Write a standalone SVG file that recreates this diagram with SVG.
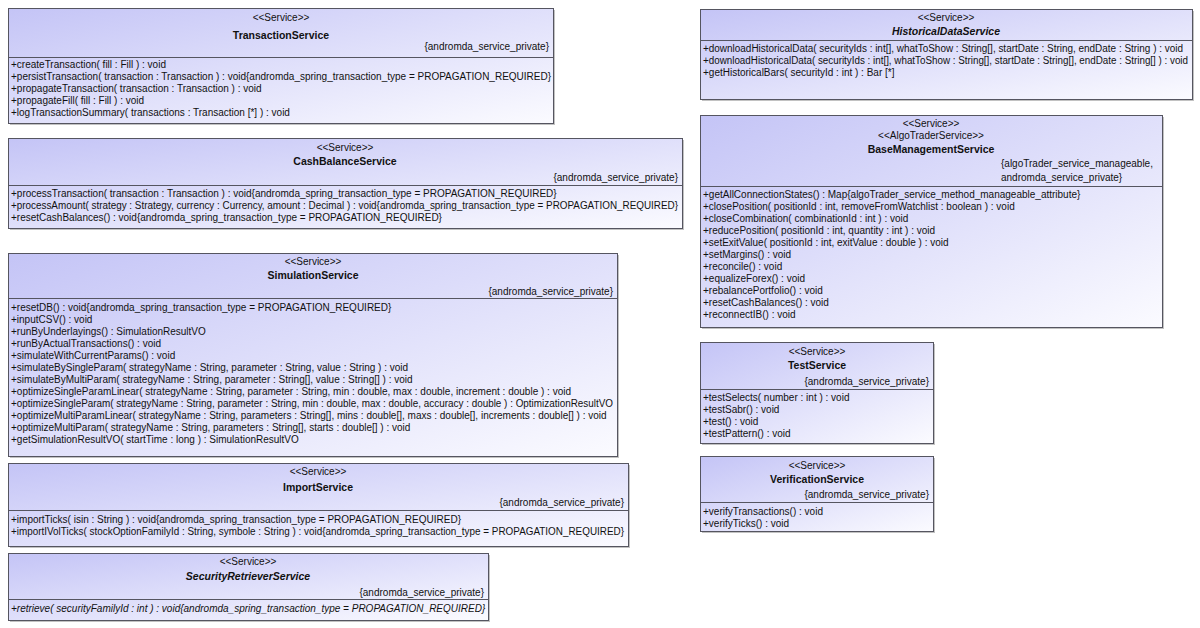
<svg xmlns="http://www.w3.org/2000/svg" width="1200" height="628" viewBox="0 0 1200 628">
  <defs>
    <linearGradient id="boxFill" x1="0" y1="0" x2="1" y2="1">
      <stop offset="0" stop-color="#c4c4f6"/>
      <stop offset="1" stop-color="#fbfbff"/>
    </linearGradient>
    <style>
      .box { fill: url(#boxFill); stroke: #555560; stroke-width: 1; }
      .shadow { fill: #a8a8a8; opacity: 0.7; }
      .sep { stroke: #555560; stroke-width: 1; }
      text { font-family: "Liberation Sans", Arial, sans-serif; font-size: 10px; fill: #111; }
      .st { text-anchor: middle; }
      .nm { text-anchor: middle; font-weight: bold; font-size: 10.5px; }
      .it { font-style: italic; }
      .tag { text-anchor: end; }
    </style>
  </defs>
  <rect width="1200" height="628" fill="#ffffff"/>

  <!-- TransactionService -->
  <g id="TransactionService">
    <rect class="shadow" x="10" y="10" width="545" height="115"/>
    <rect class="box" x="8.5" y="8.5" width="545" height="115"/>
    <line class="sep" x1="8.5" y1="57.5" x2="553.5" y2="57.5"/>
    <text class="st" x="281" y="21">&lt;&lt;Service&gt;&gt;</text>
    <text class="nm" x="281" y="39">TransactionService</text>
    <text class="tag" x="549" y="50">{andromda_service_private}</text>
    <text x="11" y="68">+createTransaction( fill : Fill ) : void</text>
    <text x="11" y="80">+persistTransaction( transaction : Transaction ) : void{andromda_spring_transaction_type = PROPAGATION_REQUIRED}</text>
    <text x="11" y="92">+propagateTransaction( transaction : Transaction ) : void</text>
    <text x="11" y="104">+propagateFill( fill : Fill ) : void</text>
    <text x="11" y="116">+logTransactionSummary( transactions : Transaction [*] ) : void</text>
  </g>

  <!-- CashBalanceService -->
  <g id="CashBalanceService">
    <rect class="shadow" x="10" y="140" width="674" height="90"/>
    <rect class="box" x="8.5" y="138.5" width="674" height="90"/>
    <line class="sep" x1="8.5" y1="185.5" x2="682.5" y2="185.5"/>
    <text class="st" x="345" y="151">&lt;&lt;Service&gt;&gt;</text>
    <text class="nm" x="345" y="165">CashBalanceService</text>
    <text class="tag" x="678" y="181">{andromda_service_private}</text>
    <text x="11" y="197">+processTransaction( transaction : Transaction ) : void{andromda_spring_transaction_type = PROPAGATION_REQUIRED}</text>
    <text x="11" y="209" textLength="667" lengthAdjust="spacingAndGlyphs">+processAmount( strategy : Strategy, currency : Currency, amount : Decimal ) : void{andromda_spring_transaction_type = PROPAGATION_REQUIRED}</text>
    <text x="11" y="221">+resetCashBalances() : void{andromda_spring_transaction_type = PROPAGATION_REQUIRED}</text>
  </g>

  <!-- SimulationService -->
  <g id="SimulationService">
    <rect class="shadow" x="10" y="255" width="609" height="203"/>
    <rect class="box" x="8.5" y="253.5" width="609" height="203"/>
    <line class="sep" x1="8.5" y1="298.5" x2="617.5" y2="298.5"/>
    <text class="st" x="313" y="265">&lt;&lt;Service&gt;&gt;</text>
    <text class="nm" x="313" y="279">SimulationService</text>
    <text class="tag" x="613" y="295">{andromda_service_private}</text>
    <text x="11" y="311">+resetDB() : void{andromda_spring_transaction_type = PROPAGATION_REQUIRED}</text>
    <text x="11" y="323">+inputCSV() : void</text>
    <text x="11" y="335">+runByUnderlayings() : SimulationResultVO</text>
    <text x="11" y="347">+runByActualTransactions() : void</text>
    <text x="11" y="359">+simulateWithCurrentParams() : void</text>
    <text x="11" y="371">+simulateBySingleParam( strategyName : String, parameter : String, value : String ) : void</text>
    <text x="11" y="383">+simulateByMultiParam( strategyName : String, parameter : String[], value : String[] ) : void</text>
    <text x="11" y="395">+optimizeSingleParamLinear( strategyName : String, parameter : String, min : double, max : double, increment : double ) : void</text>
    <text x="11" y="407" textLength="602" lengthAdjust="spacingAndGlyphs">+optimizeSingleParam( strategyName : String, parameter : String, min : double, max : double, accuracy : double ) : OptimizationResultVO</text>
    <text x="11" y="419">+optimizeMultiParamLinear( strategyName : String, parameters : String[], mins : double[], maxs : double[], increments : double[] ) : void</text>
    <text x="11" y="431">+optimizeMultiParam( strategyName : String, parameters : String[], starts : double[] ) : void</text>
    <text x="11" y="443">+getSimulationResultVO( startTime : long ) : SimulationResultVO</text>
  </g>

  <!-- ImportService -->
  <g id="ImportService">
    <rect class="shadow" x="10" y="465" width="620" height="83"/>
    <rect class="box" x="8.5" y="463.5" width="620" height="83"/>
    <line class="sep" x1="8.5" y1="510.5" x2="628.5" y2="510.5"/>
    <text class="st" x="318" y="475">&lt;&lt;Service&gt;&gt;</text>
    <text class="nm" x="318" y="491">ImportService</text>
    <text class="tag" x="624" y="506">{andromda_service_private}</text>
    <text x="11" y="523">+importTicks( isin : String ) : void{andromda_spring_transaction_type = PROPAGATION_REQUIRED}</text>
    <text x="11" y="535" textLength="613" lengthAdjust="spacingAndGlyphs">+importIVolTicks( stockOptionFamilyId : String, symbole : String ) : void{andromda_spring_transaction_type = PROPAGATION_REQUIRED}</text>
  </g>

  <!-- SecurityRetrieverService -->
  <g id="SecurityRetrieverService">
    <rect class="shadow" x="10" y="555" width="480" height="67"/>
    <rect class="box" x="8.5" y="553.5" width="480" height="67"/>
    <line class="sep" x1="8.5" y1="599.5" x2="488.5" y2="599.5"/>
    <text class="st" x="248" y="565">&lt;&lt;Service&gt;&gt;</text>
    <text class="nm it" x="248" y="580">SecurityRetrieverService</text>
    <text class="tag" x="484" y="596">{andromda_service_private}</text>
    <text class="it" x="11" y="612">+retrieve( securityFamilyId : int ) : void{andromda_spring_transaction_type = PROPAGATION_REQUIRED}</text>
  </g>

  <!-- HistoricalDataService -->
  <g id="HistoricalDataService">
    <rect class="shadow" x="702" y="11" width="492" height="90"/>
    <rect class="box" x="700.5" y="9.5" width="492" height="90"/>
    <line class="sep" x1="700.5" y1="40.5" x2="1192.5" y2="40.5"/>
    <text class="st" x="946" y="21">&lt;&lt;Service&gt;&gt;</text>
    <text class="nm it" x="946" y="35">HistoricalDataService</text>
    <text x="703" y="52" textLength="480" lengthAdjust="spacingAndGlyphs">+downloadHistoricalData( securityIds : int[], whatToShow : String[], startDate : String, endDate : String ) : void</text>
    <text x="703" y="64" textLength="485" lengthAdjust="spacingAndGlyphs">+downloadHistoricalData( securityIds : int[], whatToShow : String[], startDate : String[], endDate : String[] ) : void</text>
    <text x="703" y="76">+getHistoricalBars( securityId : int ) : Bar [*]</text>
  </g>

  <!-- BaseManagementService -->
  <g id="BaseManagementService">
    <rect class="shadow" x="702" y="117" width="462" height="212"/>
    <rect class="box" x="700.5" y="115.5" width="462" height="212"/>
    <line class="sep" x1="700.5" y1="186.5" x2="1162.5" y2="186.5"/>
    <text class="st" x="931" y="127">&lt;&lt;Service&gt;&gt;</text>
    <text class="st" x="931" y="139">&lt;&lt;AlgoTraderService&gt;&gt;</text>
    <text class="nm" x="931" y="153">BaseManagementService</text>
    <text x="1001" y="167">{algoTrader_service_manageable,</text>
    <text x="1001" y="181">andromda_service_private}</text>
    <text x="703" y="198">+getAllConnectionStates() : Map{algoTrader_service_method_manageable_attribute}</text>
    <text x="703" y="210">+closePosition( positionId : int, removeFromWatchlist : boolean ) : void</text>
    <text x="703" y="222">+closeCombination( combinationId : int ) : void</text>
    <text x="703" y="234">+reducePosition( positionId : int, quantity : int ) : void</text>
    <text x="703" y="246">+setExitValue( positionId : int, exitValue : double ) : void</text>
    <text x="703" y="258">+setMargins() : void</text>
    <text x="703" y="270">+reconcile() : void</text>
    <text x="703" y="282">+equalizeForex() : void</text>
    <text x="703" y="294">+rebalancePortfolio() : void</text>
    <text x="703" y="306">+resetCashBalances() : void</text>
    <text x="703" y="318">+reconnectIB() : void</text>
  </g>

  <!-- TestService -->
  <g id="TestService">
    <rect class="shadow" x="702" y="344" width="233" height="101"/>
    <rect class="box" x="700.5" y="342.5" width="233" height="101"/>
    <line class="sep" x1="700.5" y1="389.5" x2="933.5" y2="389.5"/>
    <text class="st" x="817" y="355">&lt;&lt;Service&gt;&gt;</text>
    <text class="nm" x="817" y="369">TestService</text>
    <text class="tag" x="929" y="385">{andromda_service_private}</text>
    <text x="703" y="401">+testSelects( number : int ) : void</text>
    <text x="703" y="413">+testSabr() : void</text>
    <text x="703" y="425">+test() : void</text>
    <text x="703" y="437">+testPattern() : void</text>
  </g>

  <!-- VerificationService -->
  <g id="VerificationService">
    <rect class="shadow" x="702" y="458" width="233" height="75"/>
    <rect class="box" x="700.5" y="456.5" width="233" height="75"/>
    <line class="sep" x1="700.5" y1="502.5" x2="933.5" y2="502.5"/>
    <text class="st" x="817" y="469">&lt;&lt;Service&gt;&gt;</text>
    <text class="nm" x="817" y="483">VerificationService</text>
    <text class="tag" x="929" y="498">{andromda_service_private}</text>
    <text x="703" y="515">+verifyTransactions() : void</text>
    <text x="703" y="527">+verifyTicks() : void</text>
  </g>
</svg>
